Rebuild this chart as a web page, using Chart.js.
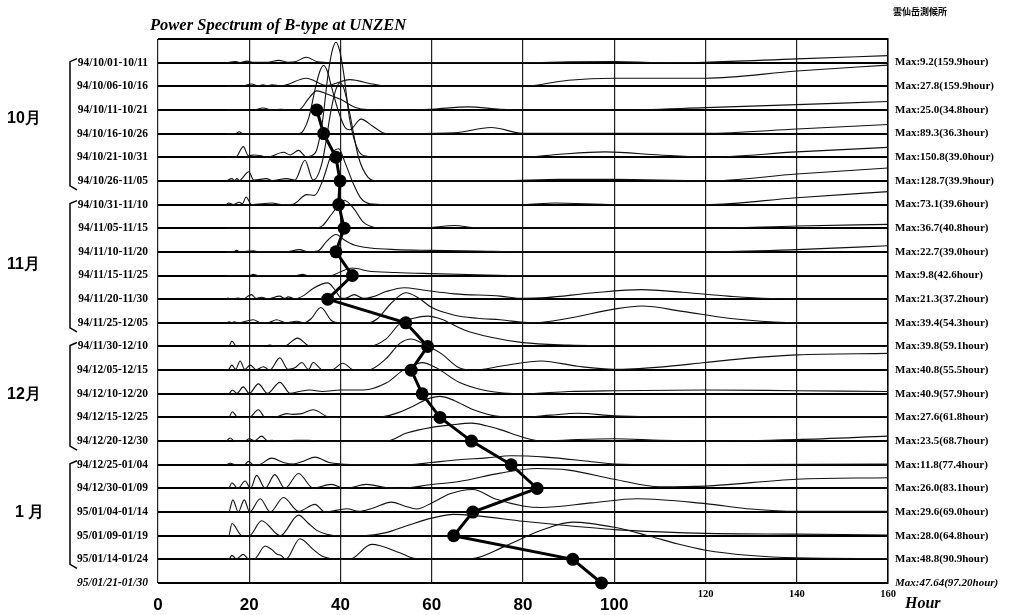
<!DOCTYPE html>
<html>
<head>
<meta charset="utf-8">
<script src="https://cdn.jsdelivr.net/npm/chart.js@4.4.1/dist/chart.umd.min.js"></script>
<style>
  body { margin: 0; background: #fff; }
  canvas { display: block; }
</style>
</head>
<body>
<canvas id="myChart0" width="1011" height="615"></canvas>
<script>
// row labels, top to bottom
var rowLabels = ['94/10/01-10/11','94/10/06-10/16','94/10/11-10/21','94/10/16-10/26','94/10/21-10/31','94/10/26-11/05',
  '94/10/31-11/10','94/11/05-11/15','94/11/10-11/20','94/11/15-11/25','94/11/20-11/30','94/11/25-12/05',
  '94/11/30-12/10','94/12/05-12/15','94/12/10-12/20','94/12/15-12/25','94/12/20-12/30',
  '94/12/25-01/04','94/12/30-01/09','95/01/04-01/14','95/01/09-01/19','95/01/14-01/24','95/01/21-01/30'];
var maxLabels = ['Max:9.2(159.9hour)','Max:27.8(159.9hour)','Max:25.0(34.8hour)','Max:89.3(36.3hour)','Max:150.8(39.0hour)','Max:128.7(39.9hour)',
  'Max:73.1(39.6hour)','Max:36.7(40.8hour)','Max:22.7(39.0hour)','Max:9.8(42.6hour)','Max:21.3(37.2hour)','Max:39.4(54.3hour)',
  'Max:39.8(59.1hour)','Max:40.8(55.5hour)','Max:40.9(57.9hour)','Max:27.6(61.8hour)','Max:23.5(68.7hour)',
  'Max:11.8(77.4hour)','Max:26.0(83.1hour)','Max:29.6(69.0hour)','Max:28.0(64.8hour)','Max:48.8(90.9hour)','Max:47.64(97.20hour)'];
// peak hour of rows 3..23 (thick line with dots)
var peakHours = [34.8, 36.3, 39.0, 39.9, 39.6, 40.8, 39.0, 42.6, 37.2, 54.3, 59.1, 55.5, 57.9, 61.8, 68.7, 77.4, 83.1, 69.0, 64.8, 90.9, 97.2];
var xTicks = [0, 20, 40, 60, 80, 100, 120, 140, 160];
var months = ['10月', '11月', '12月', '1 月'];
var monthRows = [[0, 5], [6, 11], [12, 16], [17, 21]];

// spectra: [hour, power]
var spec01 = [[15,0],[17,1.5],[18,0],[19.5,2],[21,0.5],[24,0.5],[26.5,3],[28.5,0.5],[30,1],[32.5,7],[35,1],[38,0],[60,0],[80,0],[90,1],[100,1.5],[110,0],[120,0.5],[140,5],[160,9.2]];
var spec02 = [[15,0],[18,0],[20.5,3],[22,0.5],[23,2],[24,0.5],[25,2],[27,0.5],[32.5,10.5],[37,1],[42,8.7],[47,3],[50,0],[80,0],[90,8],[100,10.5],[120,10.5],[140,20],[160,27.8]];
var spec03 = [[15,0],[21,0],[23,2.5],[25,0],[27,1],[28.5,0],[31,0.5],[33,15],[34.8,25],[37,21],[40,14],[43,4],[46,0.5],[55,0],[60,1],[68,4],[75,1],[80,0],[100,0],[120,3],[140,7],[160,11]];
var spec04 = [[15,0],[17,0],[17.8,2.5],[18.6,0],[31,0],[33,20],[34.5,60],[35.5,82],[36.3,89.3],[37.1,82],[38,62],[39.5,30],[41,8],[42,5],[44.5,19],[47,10],[50,0],[55,0],[65,1],[73,8],[80,0.5],[120,0.5],[140,6],[160,12]];
var spec05 = [[15,0],[17,0],[18.7,14],[19.8,2],[21,3],[22.6,2],[24,0],[27.5,6.5],[29,3],[30.8,9],[32.5,0.5],[34.5,6],[36,45],[37.3,110],[38.2,140],[39,150.8],[39.8,140],[40.7,110],[42,50],[44,8],[46,1],[48,0],[80,0],[88,4],[98,7],[110,3],[120,0],[140,7],[160,13]];
var spec06 = [[15,0],[16.2,3],[16.8,0.5],[17.3,3],[17.9,0.5],[18.4,3],[19.9,12],[21,1],[23.8,3],[25,0.5],[28.2,3],[30,1],[32.2,27],[34,1],[36,25],[38,95],[39,120],[39.9,128.7],[40.8,120],[41.8,95],[44,30],[46,5],[48,0],[75,0],[88,2],[100,2],[120,0],[140,9],[160,17]];
var spec07 = [[15,0],[15.5,2],[16.5,0],[17.8,3],[18.5,1],[19.3,10],[20.5,0],[25,2],[27,0],[29.6,0.5],[32.6,13],[34.3,12],[36,30],[38,65],[39.6,73.1],[41,55],[42.7,29],[44.5,8],[46.5,1],[50,0],[80,0],[87,2],[100,0],[120,0],[140,9],[160,17]];
var spec08 = [[15,0],[34,0],[36,3],[38,18],[40.8,36.7],[43,25],[45,8],[47.5,1],[50,0],[60,1],[65,3.5],[70,0.5],[120,0],[140,3],[160,5]];
var spec09 = [[15,0],[16.5,0],[17.2,2],[18,0],[20.9,1.5],[22,0],[28,0],[31,3],[33,0],[35,1],[37,14],[39,22.7],[41,15],[43,9],[46.6,5],[52,3],[60,2],[70,1],[80,0],[120,0],[140,3],[160,8]];
var spec10 = [[15,0],[20,0],[20.9,1.5],[22,0],[30,0],[31.7,1.5],[33,0],[38,0],[40,5],[42.6,9.8],[46,6],[52,4],[60,2.5],[70,1],[80,0],[160,0]];
var spec11 = [[15,0],[15.3,1.5],[16,0],[17.6,1.5],[18.5,0],[20.5,6],[21.5,1],[22.7,2.5],[24,0.5],[26.7,4],[27.7,1],[28.6,3],[30,0.5],[32,5],[34,14],[37.2,21.3],[38.8,12],[40,2],[41,1],[43,6],[45,1],[47,3],[50,10],[54,15],[58,12],[65,7],[75,4],[80,1],[85,2],[95,8],[106,12.5],[115,9],[125,4],[140,0],[160,0]];
var spec12 = [[15,0],[15.6,1.5],[16.2,0],[16.7,1.5],[17.5,0],[20.9,4],[22.5,0],[24,0],[26,4],[28,0],[30.4,2],[32,0],[33.5,5],[35.7,20],[38,3],[40,0],[46,0],[48,5],[51,25],[54.3,39.4],[57,33],[60,20],[65,10],[70,6],[75,4],[82,0],[90,6],[100,18],[106,22],[115,15],[125,6],[135,1],[140,0],[160,0]];
var spec13 = [[15,0],[15.5,0],[16.2,7],[17.2,0],[23,0],[24.5,2],[26,0],[28,1],[30.6,11],[33,1],[35,0],[46,0],[50,10],[53,30],[56,37],[59.1,39.8],[62,36],[67,22],[73,12],[80,5],[90,2],[100,1],[110,0],[160,0]];
var spec14 = [[15,0],[15.5,1],[16.2,6.5],[17,1],[18,12],[19,1],[20.2,6.5],[21.5,0.5],[23.1,4.5],[24.5,0],[26.7,16],[28.5,1],[30,3],[31.5,10],[33,1],[34,10],[36,0.5],[38,0],[40.5,9],[43,0],[46,0],[50,15],[53,35],[55.5,40.8],[58,35],[62,22],[66,3],[69,0],[76,6],[84,12],[92,5],[100,1],[110,4],[120,10],[130,16],[140,20],[160,22]];
var spec15 = [[15,0],[15.5,0],[16.3,5],[17.3,0.5],[18.7,9],[20,0.5],[22,13],[24,0.5],[26.7,15],[29,0.5],[31,3],[33.3,5],[36,3],[40,5],[45,5],[50,14],[54,32],[57.9,40.9],[61,34],[66,15],[72,4],[80,0],[90,3],[100,4],[120,5],[140,4],[160,3]];
var spec16 = [[15,0],[15.5,0],[16.3,7.4],[17.5,0],[20,0],[22,10],[23.5,0],[26,1],[28.2,5],[29.5,4],[31.5,5],[34,10],[37.8,0],[48,0],[52,5],[56,15],[59,24],[61.8,27.6],[65,22],[69,10.5],[75,1],[80,0],[86,3],[92,5.5],[100,2],[110,0.5],[120,0],[160,1]];
var spec17 = [[15,0],[15.8,4],[16.8,0],[19,0],[20,3],[21.2,0.5],[22.7,6.5],[24,0.5],[25,1],[26,0],[30,1],[33,1],[36,0],[50,0],[54.5,10.5],[60,18],[64,21],[68.7,23.5],[72,20],[75,15],[80,5],[84,0],[92,2],[100,3],[110,1],[120,0],[140,2],[160,6.5]];
var spec18 = [[15,0],[15.8,2],[17,0],[19,0],[19.8,4.4],[21,0],[22,0],[24.9,8.7],[27.5,3],[29.6,1],[32,5],[34.4,10],[37.5,3],[40,1],[45,0],[55,0],[60,3],[66,6.5],[72,9],[77.4,11.8],[85,10],[95,4],[100,1],[110,0],[160,1]];
var spec19 = [[15,0],[15.5,0],[16.2,7.4],[17.5,0],[19.1,9.6],[20.3,0],[21.6,17],[23.5,0],[25.6,18],[27.8,0],[30.8,19.6],[34,0.5],[38,5.2],[41,0],[45.7,5.2],[50,1],[53,0],[60,5],[66,9],[75,20],[83.1,26],[90,24],[100,12],[110,2],[120,3],[140,12],[160,14]];
var spec20 = [[15,0],[15.5,0],[16.4,16],[17.6,0],[18.9,16],[20.1,0],[22.4,17.5],[24.6,0],[27.5,19],[30.8,1],[34.4,10],[36.6,0],[41.4,4.4],[44,1],[47,5],[51.2,13],[54,8],[56.7,4],[60,12],[64,24],[69,29.6],[74,17],[80,8],[84,6],[95,12],[105,17.5],[120,11],[130,4],[140,1],[160,1]];
var spec21 = [[15,0],[15.5,0],[16.2,16],[18.4,0],[20,0],[22.7,19.6],[26.8,0],[30.8,27],[33,16],[34.8,7],[37,2],[40,0],[45,0],[50,4],[55,14],[60,23],[64.8,28],[70,26],[80,19],[90,13],[100,8],[110,5],[120,3],[140,2],[160,1]];
var spec22 = [[15,0],[15.5,0],[16.2,5.2],[17.2,0.5],[18.7,6.5],[19.8,0.5],[21,0],[23.5,17.5],[24.9,13],[26,7],[27,5],[28,0],[31.1,27],[34,13],[36,4],[40,0],[42,0],[46.8,19.6],[53,8.7],[56,1.5],[62,0],[69,1],[76,17],[84,38],[90.9,48.8],[100,42],[108,30],[114,20],[120,12],[130,5],[140,2],[160,1]];

var spectra = [spec01, spec02, spec03, spec04, spec05, spec06, spec07, spec08, spec09, spec10, spec11,
  spec12, spec13, spec14, spec15, spec16, spec17, spec18, spec19, spec20, spec21, spec22];

var ROW = 31; // power units per row
function rowVal(i) { return (22 - i) * ROW; }
function rowTicks() {
  var t = [];
  for (var i = 0; i <= 23; i++) t.push({ value: i * ROW });
  return t;
}

var datasets = [];
spectra.forEach(function(s, i) {
  datasets.push({
    data: s.map(function(p) { return { x: p[0], y: rowVal(i) + p[1] }; }),
    borderColor: '#111',
    borderWidth: 1.1,
    pointRadius: 0,
    fill: false,
    cubicInterpolationMode: 'monotone'
  });
});
datasets.push({
  data: peakHours.map(function(h, k) { return { x: h, y: rowVal(k + 2) }; }),
  borderColor: '#000',
  backgroundColor: '#000',
  borderWidth: 3,
  pointRadius: 6.5,
  pointBackgroundColor: '#000',
  pointBorderWidth: 0,
  tension: 0,
  clip: false
});

var serif = "'Liberation Serif', 'Times New Roman', serif";

var extras = {
  id: 'extras',
  afterDraw: function(chart) {
    var c = chart.ctx, xs = chart.scales.x, ys = chart.scales.y;
    c.save();
    c.fillStyle = '#000';
    c.textBaseline = 'middle';
    // title
    c.font = 'italic bold 16.5px ' + serif;
    c.textAlign = 'left';
    c.fillText('Power Spectrum of B-type at UNZEN', 150, 26);
    c.font = "bold 9px 'Noto Sans CJK JP'";
    c.fillText('雲仙岳測候所', 893, 12);
    // x labels
    xTicks.forEach(function(v) {
      var px = xs.getPixelForValue(v);
      c.textAlign = 'center';
      if (v <= 100) {
        c.font = "bold 17px 'Liberation Sans', Arial, sans-serif";
        c.fillText(String(v), px, 605);
      } else {
        c.font = 'bold 10.5px ' + serif;
        c.fillText(String(v), px, 594);
      }
    });
    c.textAlign = 'left';
    c.font = 'italic bold 16px ' + serif;
    c.fillText('Hour', 905, 604);
    // month brackets
    c.strokeStyle = '#000';
    c.lineWidth = 1.5;
    monthRows.forEach(function(r, k) {
      var top = ys.getPixelForValue(rowVal(r[0])) - 4;
      var bot = ys.getPixelForValue(rowVal(r[1])) + 5;
      c.beginPath();
      c.moveTo(77, top);
      c.lineTo(70, top + 3);
      c.lineTo(70, bot);
      c.lineTo(77, bot + 4);
      c.stroke();
      c.font = "bold 16px 'Liberation Sans', Arial, sans-serif";
      c.textAlign = 'left';
      c.fillText(months[k], k === 3 ? 15 : 7, (top + bot) / 2 - (k === 0 ? 4 : 0));
    });
    c.restore();
  }
};

var ctx = document.getElementById('myChart0').getContext('2d');
var chart = new Chart(ctx, {
  type: 'line',
  data: { datasets: datasets },
  options: {
    responsive: false,
    animation: false,
    events: [],
    layout: { padding: { top: 39, right: 0, bottom: 0, left: 0 } },
    plugins: { legend: { display: false }, tooltip: { enabled: false } },
    scales: {
      x: {
        type: 'linear',
        min: 0,
        max: 160,
        afterBuildTicks: function(s) { s.ticks = xTicks.map(function(v) { return { value: v }; }); },
        afterFit: function(s) { s.height = 32; },
        ticks: { display: false },
        grid: { color: '#222', lineWidth: 1.2, drawTicks: false },
        border: { display: false }
      },
      y: {
        type: 'linear',
        min: 0,
        max: 23 * ROW,
        afterBuildTicks: function(s) { s.ticks = rowTicks(); },
        afterFit: function(s) { s.width = 158; },
        grid: { color: '#000', lineWidth: 2, drawTicks: false },
        border: { display: false },
        ticks: {
          padding: 10,
          color: '#000',
          font: function(ctx) {
            return { family: serif, size: 11.5, weight: 'bold', style: ctx.index === 0 ? 'italic' : 'normal' };
          },
          callback: function(value) {
            var k = Math.round(value / ROW);
            return k <= 22 ? rowLabels[22 - k] : '';
          }
        }
      },
      y2: {
        type: 'linear',
        position: 'right',
        min: 0,
        max: 23 * ROW,
        afterBuildTicks: function(s) { s.ticks = rowTicks(); },
        afterFit: function(s) { s.width = 123; },
        grid: { display: false, drawTicks: false },
        border: { display: true, color: '#000', width: 1.5 },
        ticks: {
          padding: 7,
          color: '#000',
          font: function(ctx) {
            return { family: serif, size: 11, weight: 'bold', style: ctx.index === 0 ? 'italic' : 'normal' };
          },
          callback: function(value) {
            var k = Math.round(value / ROW);
            return k <= 22 ? maxLabels[22 - k] : '';
          }
        }
      }
    }
  },
  plugins: [extras]
});
</script>
</body>
</html>
